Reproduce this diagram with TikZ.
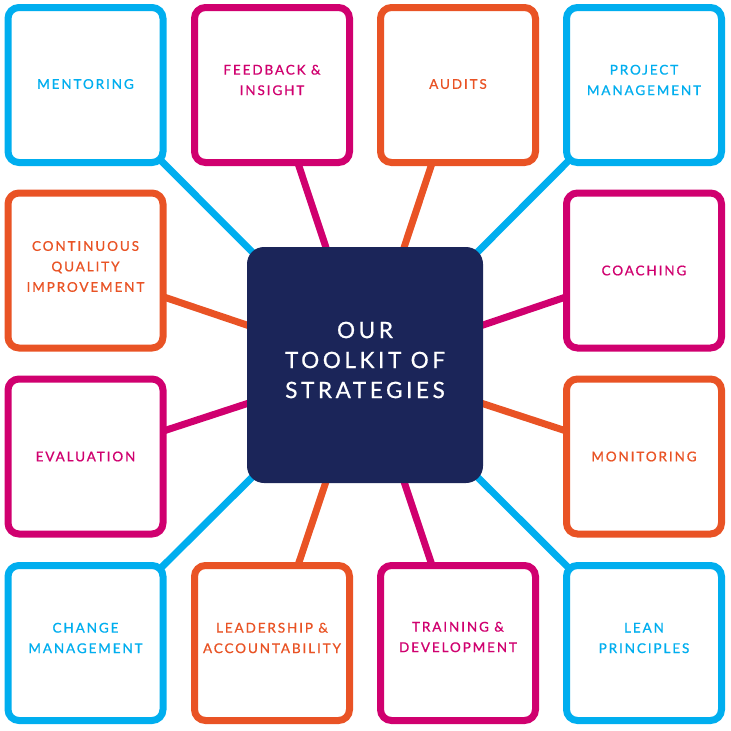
\documentclass[tikz,border=0pt]{standalone}
\usepackage{fontspec}
\newfontfamily\boxfont{Lato}[LetterSpace=14,FakeBold=0.8]
\newfontfamily\hubfont{Lato}[LetterSpace=16,FakeBold=0.8]
\usetikzlibrary{backgrounds}
\definecolor{cb}{RGB}{0,174,239}
\definecolor{mg}{RGB}{208,0,111}
\definecolor{orn}{RGB}{233,83,37}
\definecolor{navy}{RGB}{27,37,89}
\tikzset{
  sbox/.style={draw=#1, line width=7pt, fill=white, rounded corners=11pt,
    minimum width=155pt, minimum height=155pt, inner sep=0pt, outer sep=0pt},
  stxt/.style={text=#1, align=center, inner sep=0pt,
    font=\boxfont\fontsize{13.5}{20.5}\selectfont},
  conn/.style={draw=#1, line width=7pt},
  hub/.style={fill=navy, rounded corners=17pt, minimum width=236pt,
    minimum height=236pt, inner sep=0pt, outer sep=0pt},
  htxt/.style={text=white, align=center, inner sep=0pt,
    font=\hubfont\fontsize{22.5}{30}\selectfont}
}
\begin{document}
\begin{tikzpicture}[x=1pt,y=-1pt]
\useasboundingbox (0,0) rectangle (731,731);
\node[hub] (c) at (365,365) {};
\node[htxt] (ct) at ([yshift=5pt]c.center) {OUR\\TOOLKIT OF\\STRATEGIES};
% boxes
\node[sbox=cb]  (b1)  at (85.5,85) {};
\node[sbox=mg]  (b2)  at (272,85) {};
\node[sbox=orn] (b3)  at (458,85) {};
\node[sbox=cb]  (b4)  at (644,85) {};
\node[sbox=orn] (b5)  at (85.5,270.5) {};
\node[sbox=mg]  (b6)  at (644,270.5) {};
\node[sbox=mg]  (b7)  at (85.5,456.5) {};
\node[sbox=orn] (b8)  at (644,456.5) {};
\node[sbox=cb]  (b9)  at (85.5,643) {};
\node[sbox=orn] (b10) at (272,643) {};
\node[sbox=mg]  (b11) at (458,643) {};
\node[sbox=cb]  (b12) at (644,643) {};
% texts
\node[stxt=cb]  (t1)  at ([yshift=1pt]b1.center) {MENTORING};
\node[stxt=mg]  (t2)  at ([yshift=5pt]b2.center) {FEEDBACK \&\\INSIGHT};
\node[stxt=orn] (t3)  at ([yshift=1pt]b3.center) {AUDITS};
\node[stxt=cb]  (t4)  at ([yshift=5pt]b4.center) {PROJECT\\MANAGEMENT};
\node[stxt=orn] (t5)  at ([yshift=4pt]b5.center) {CONTINUOUS\\QUALITY\\IMPROVEMENT};
\node[stxt=mg]  (t6)  at ([yshift=0pt]b6.center) {COACHING};
\node[stxt=mg]  (t7)  at ([yshift=0pt]b7.center) {EVALUATION};
\node[stxt=orn] (t8)  at ([yshift=0pt]b8.center) {MONITORING};
\node[stxt=cb]  (t9)  at ([yshift=5pt]b9.center) {CHANGE\\MANAGEMENT};
\node[stxt=orn] (t10) at ([yshift=5pt]b10.center) {LEADERSHIP \&\\ACCOUNTABILITY};
\node[stxt=mg]  (t11) at ([yshift=6pt]b11.center) {TRAINING \&\\DEVELOPMENT};
\node[stxt=cb]  (t12) at ([yshift=5pt]b12.center) {LEAN\\PRINCIPLES};
\begin{scope}[on background layer]
\draw[conn=cb]  (c.center) -- (b1.center);
\draw[conn=mg]  (c.center) -- (b2.center);
\draw[conn=orn] (c.center) -- (b3.center);
\draw[conn=cb]  (c.center) -- (b4.center);
\draw[conn=orn] (c.center) -- (b5.center);
\draw[conn=mg]  (c.center) -- (b6.center);
\draw[conn=mg]  (c.center) -- (b7.center);
\draw[conn=orn] (c.center) -- (b8.center);
\draw[conn=cb]  (c.center) -- (b9.center);
\draw[conn=orn] (c.center) -- (b10.center);
\draw[conn=mg]  (c.center) -- (b11.center);
\draw[conn=cb]  (c.center) -- (b12.center);
\end{scope}
\end{tikzpicture}
\end{document}
